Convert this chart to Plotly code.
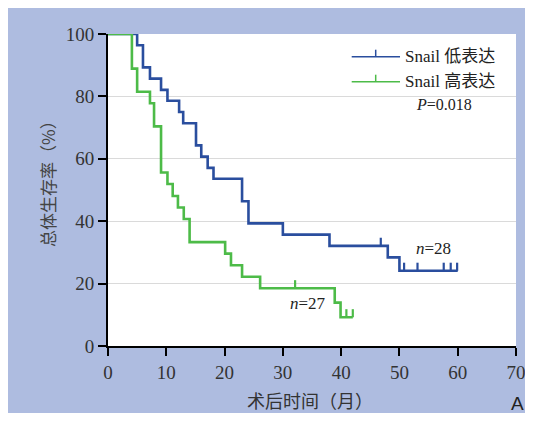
import plotly.graph_objects as go

# ---- data ----
low_times = [0, 5, 6, 7.2, 9.1, 10.2, 12.2, 12.9, 15.1, 16, 17.1, 18.1, 23, 24.1, 30, 38, 48, 50, 60]
low_surv = [100, 96.4, 89.3, 85.7, 82.1, 78.6, 75.0, 71.4, 64.3, 60.7, 57.1, 53.6, 46.4, 39.3, 35.7, 32.1, 28.4, 24.1, 24.1]
low_censor = [46.8, 50.8, 53.1, 57.6, 58.8, 59.9]

high_times = [0, 4.1, 5, 7.2, 7.9, 9.1, 10.2, 11.1, 12, 13, 14, 20.1, 21.1, 23, 26.1, 38.9, 39.9, 42]
high_surv = [100, 88.9, 81.5, 77.8, 70.4, 55.6, 51.9, 48.1, 44.4, 40.7, 33.3, 29.6, 25.9, 22.2, 18.5, 13.9, 9.2, 9.2]
high_censor = [32.1, 40.9, 42.0]

x_ticks = [0, 10, 20, 30, 40, 50, 60, 70]
y_ticks = [0, 20, 40, 60, 80, 100]

low_name = "Snail 低表达"
high_name = "Snail 高表达"
p_text = "<i>P</i>=0.018"
low_n = "<i>n</i>=28"
high_n = "<i>n</i>=27"
x_title = "术后时间（月）"
y_title = "总体生存率（%）"

BLUE = "#2A4E9E"
GREEN = "#4DBB48"
BG = "#AEBCE0"
TICK_H = 2.6

OFF = 8  # page body margin
W, H = 533 - 2 * OFF, 421 - 2 * OFF
L, T = 100, 26
PW, PH = 408, 312
R, B = W - L - PW, H - T - PH


def px(xs):
    # screenshot pixel x -> paper fraction
    return (xs - OFF - L) / PW


def py(ys):
    # screenshot pixel y -> paper fraction
    return (T + PH - (ys - OFF)) / PH


def step_value(times, surv, t):
    v = surv[0]
    for ti, si in zip(times, surv):
        if ti <= t:
            v = si
    return v


def censor_xy(times, surv, cens):
    xs, ys = [], []
    for c in cens:
        s = step_value(times, surv, c)
        xs += [c, c, None]
        ys += [s, s + TICK_H, None]
    return xs, ys


fig = go.Figure()
for times, surv, cens, col in [(low_times, low_surv, low_censor, BLUE),
                               (high_times, high_surv, high_censor, GREEN)]:
    fig.add_trace(go.Scatter(x=times, y=surv, mode="lines", line=dict(color=col, width=2.6, shape="hv"),
                             showlegend=False, hoverinfo="skip"))
    cx, cy = censor_xy(times, surv, cens)
    fig.add_trace(go.Scatter(x=cx, y=cy, mode="lines", line=dict(color=col, width=2.2),
                             showlegend=False, hoverinfo="skip"))

serif = "Liberation Serif, Noto Sans CJK SC"
cjk = "Noto Sans CJK SC"

shapes = []
# legend samples
for yy, col in [(56.7, BLUE), (81.7, GREEN)]:
    shapes.append(dict(type="line", xref="paper", yref="paper", x0=px(351.7), x1=px(400), y0=py(yy), y1=py(yy),
                       line=dict(color=col, width=1.5)))
    shapes.append(dict(type="line", xref="paper", yref="paper", x0=px(375.7), x1=px(375.7), y0=py(yy), y1=py(yy - 7),
                       line=dict(color=col, width=1.5)))

annotations = [
    dict(x=px(403), y=py(56.7), xref="paper", yref="paper", text=low_name, showarrow=False,
         xanchor="left", yanchor="middle", font=dict(family=serif, size=17, color="#222")),
    dict(x=px(403), y=py(81.7), xref="paper", yref="paper", text=high_name, showarrow=False,
         xanchor="left", yanchor="middle", font=dict(family=serif, size=17, color="#222")),
    dict(x=px(414), y=py(105), xref="paper", yref="paper", text=p_text, showarrow=False,
         xanchor="left", yanchor="middle", font=dict(family=serif, size=16, color="#222")),
    dict(x=55.9, y=31.4, xref="x", yref="y", text=low_n, showarrow=False,
         font=dict(family=serif, size=17, color="#222")),
    dict(x=34.3, y=13.5, xref="x", yref="y", text=high_n, showarrow=False,
         font=dict(family=serif, size=17, color="#222")),
    dict(x=px(310), y=py(400), xref="paper", yref="paper", text=x_title, showarrow=False,
         xanchor="center", yanchor="middle", font=dict(family=cjk, size=18, color="#333")),
    dict(x=px(47), y=py(180), xref="paper", yref="paper", text=y_title, showarrow=False, textangle=-90,
         xanchor="center", yanchor="middle", font=dict(family=cjk, size=17, color="#444")),
    dict(x=px(517), y=py(403), xref="paper", yref="paper", text="A", showarrow=False,
         xanchor="center", yanchor="middle", font=dict(family="Liberation Sans", size=19, color="#222")),
]

axis_common = dict(showline=True, linecolor="black", linewidth=2, ticks="outside", ticklen=8, tickwidth=2,
                   tickcolor="black", tickfont=dict(family="Liberation Serif", size=19, color="#333"),
                   zeroline=False, fixedrange=True, ticklabeloverflow="allow", automargin=False)

fig.update_layout(
    width=W, height=H, margin=dict(l=L, r=R, t=T, b=B, pad=0, autoexpand=False),
    paper_bgcolor=BG, plot_bgcolor="white",
    xaxis=dict(range=[0, 70], tickvals=x_ticks, showgrid=False, **axis_common),
    yaxis=dict(range=[0, 100], tickvals=y_ticks, showgrid=True, gridcolor="#DADADA", gridwidth=1, **axis_common),
    shapes=shapes, annotations=annotations, showlegend=False,
)

fig.write_html("out.html")
